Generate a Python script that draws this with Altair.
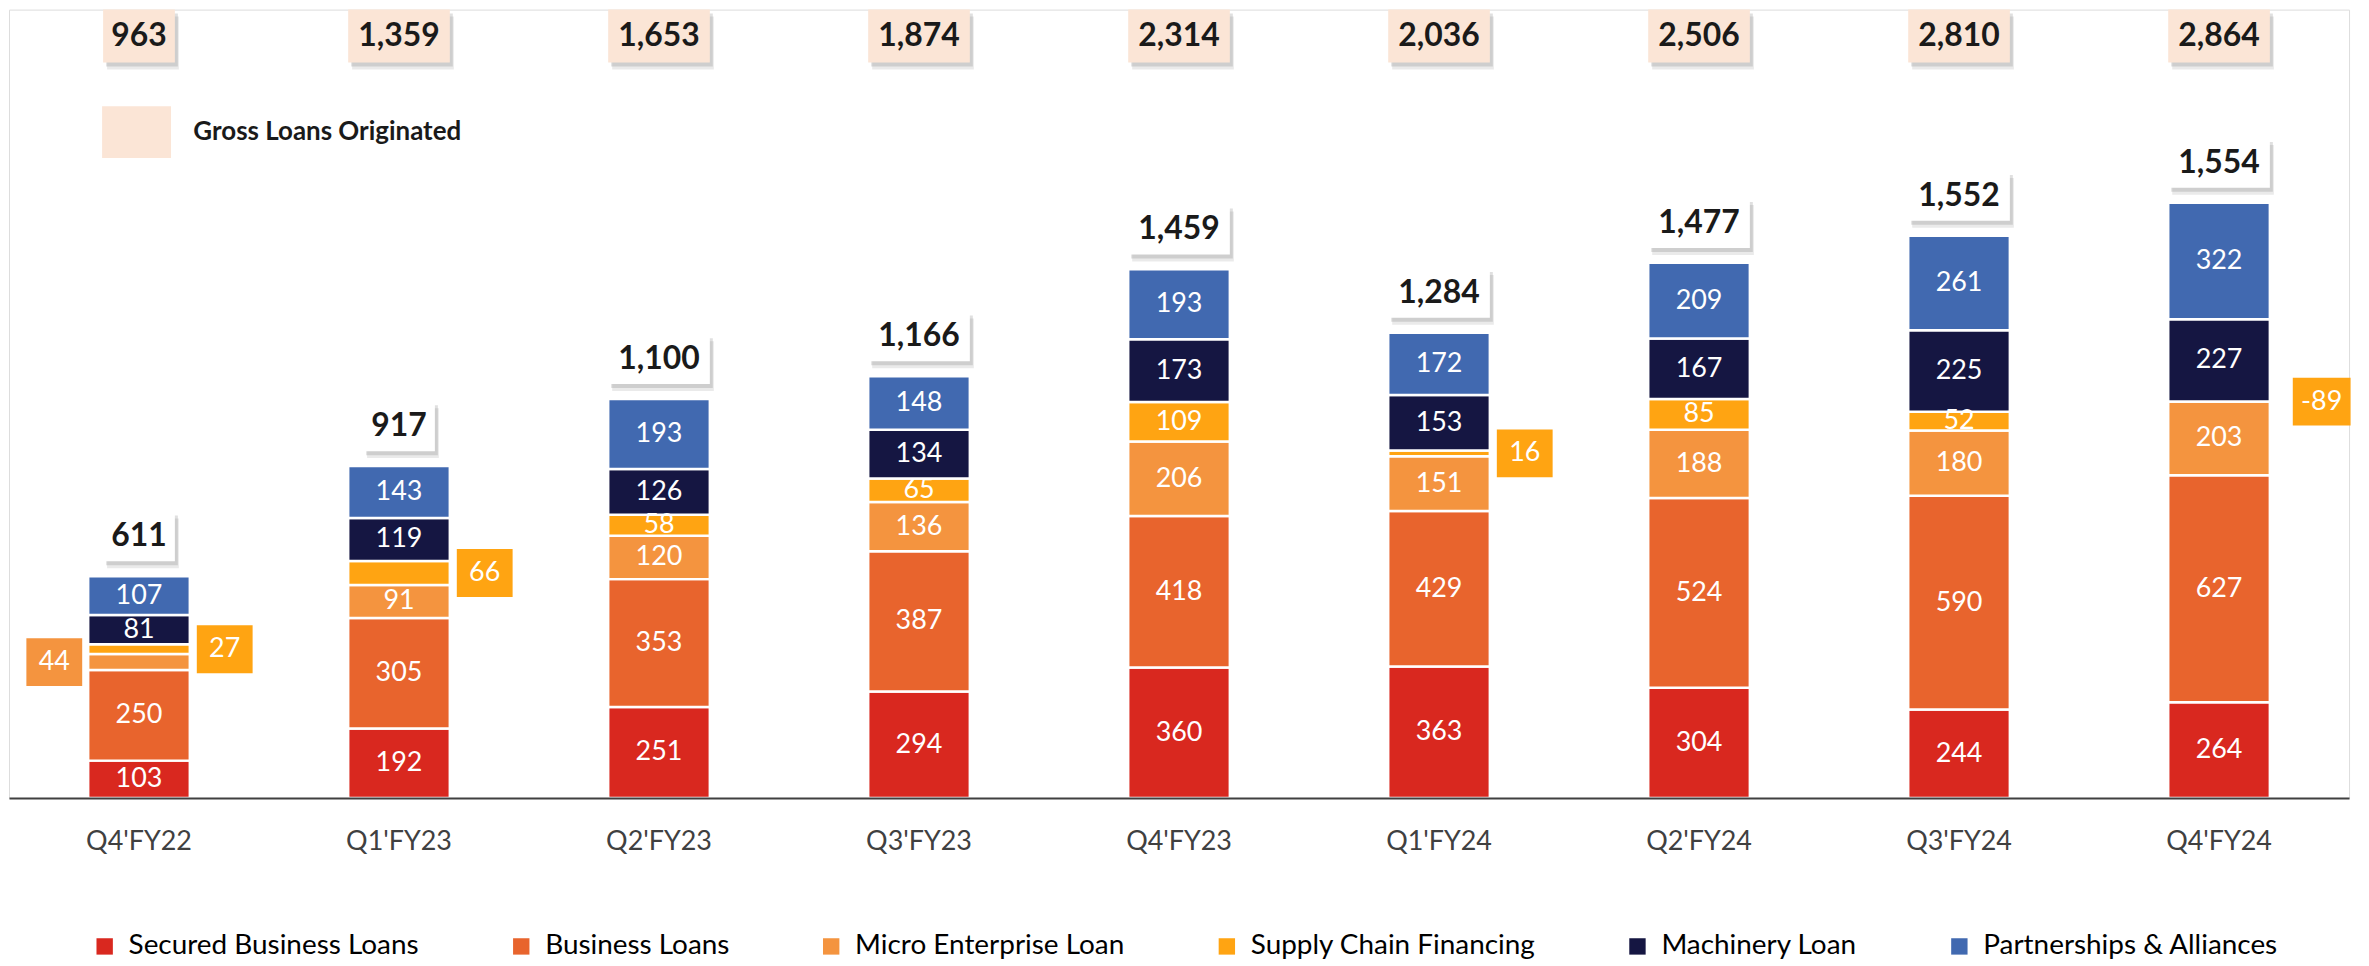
import altair as alt
import pandas as pd

quarters = ["Q4'FY22", "Q1'FY23", "Q2'FY23", "Q3'FY23", "Q4'FY23",
            "Q1'FY24", "Q2'FY24", "Q3'FY24", "Q4'FY24"]
series_names = ["Secured Business Loans", "Business Loans", "Micro Enterprise Loan",
                "Supply Chain Financing", "Machinery Loan", "Partnerships & Alliances"]
series_colors = ["#D9281F", "#E8642D", "#F4943F", "#FFA412", "#151642", "#4169B0"]

secured = [103, 192, 251, 294, 360, 363, 304, 244, 264]
business = [250, 305, 353, 387, 418, 429, 524, 590, 627]
micro = [44, 91, 120, 136, 206, 151, 188, 180, 203]
supply = [27, 66, 58, 65, 109, 16, 85, 52, -89]
machinery = [81, 119, 126, 134, 173, 153, 167, 225, 227]
partnerships = [107, 143, 193, 148, 193, 172, 209, 261, 322]
totals = [611, 917, 1100, 1166, 1459, 1284, 1477, 1552, 1554]
gross = [963, 1359, 1653, 1874, 2314, 2036, 2506, 2810, 2864]

# which segment labels sit in a box beside the bar instead of inside it
callouts = {
    ("Q4'FY22", "Micro Enterprise Loan"): "left",
    ("Q4'FY22", "Supply Chain Financing"): "right",
    ("Q1'FY23", "Supply Chain Financing"): "right",
    ("Q1'FY24", "Supply Chain Financing"): "right",
    ("Q4'FY24", "Supply Chain Financing"): "far",
}

rows = []
all_series = [secured, business, micro, supply, machinery, partnerships]
for qi, q in enumerate(quarters):
    for si, name in enumerate(series_names):
        v = all_series[si][qi]
        rows.append(dict(quarter=q, series=name, order=si, value=v, label=str(v),
                         callout=callouts.get((q, name), "none")))
seg_df = pd.DataFrame(rows)
tot_df = pd.DataFrame({"quarter": quarters, "total": totals, "gross": gross,
                       "legend_name": ["Gross Loans Originated"] * len(quarters)})

FONT = "Lato"
W, H = 2348, 791
yscale = alt.Scale(domain=[0, 2176], nice=False, zero=True)

x_enc = alt.X("quarter:N", sort=quarters,
              scale=alt.Scale(paddingInner=0, paddingOuter=0),
              axis=alt.Axis(title=None, labelAngle=0, labelFont=FONT, labelFontSize=27,
                            labelColor="#404040", ticks=False, tickSize=0, labelPadding=31,
                            domainColor="#404040", domainWidth=2, zindex=1))

color_enc = alt.Color("series:N",
                      scale=alt.Scale(domain=series_names, range=series_colors),
                      legend=alt.Legend(orient="none", legendX=82, legendY=926,
                                        direction="horizontal", columns=6, title=None,
                                        symbolType="square", symbolSize=270,
                                        symbolStrokeWidth=0, labelFont=FONT,
                                        labelFontSize=28, labelColor="#000000",
                                        labelOffset=10, columnPadding=88, labelLimit=0))

seg = (alt.Chart(seg_df)
       .transform_calculate(drawn="max(datum.value, 0)")
       .transform_stack(stack="drawn", groupby=["quarter"], as_=["y0", "y1"],
                        sort=[alt.SortField("order", order="ascending")])
       .transform_calculate(mid="(datum.y0 + datum.y1) / 2"))

bars = seg.mark_bar(width=102, stroke="white", strokeWidth=2.5).encode(
    x=x_enc,
    y=alt.Y("y0:Q", scale=yscale, axis=None),
    y2="y1:Q",
    color=color_enc,
)

inner_labels = seg.transform_filter("datum.callout == 'none'").mark_text(
    font=FONT, fontSize=27, color="white", baseline="middle").encode(
    x=x_enc, y=alt.Y("mid:Q", scale=yscale, axis=None), text="label:N")

layers = [bars, inner_labels]
for side, off, bw in [("right", 86, 56), ("left", -85, 56), ("far", 103, 58)]:
    sub = seg.transform_filter(f"datum.callout == '{side}'")
    layers.append(sub.mark_bar(width=bw, xOffset=off, yOffset=24, y2Offset=-24).encode(
        x=x_enc, y=alt.Y("mid:Q", scale=yscale, axis=None), y2="mid:Q", color=color_enc))
    layers.append(sub.mark_text(font=FONT, fontSize=27, color="white", baseline="middle",
                                xOffset=off).encode(
        x=x_enc, y=alt.Y("mid:Q", scale=yscale, axis=None), text="label:N"))

tot = (alt.Chart(seg_df)
       .transform_calculate(drawn="max(datum.value, 0)")
       .transform_aggregate(top="sum(drawn)", groupby=["quarter"])
       .transform_lookup(lookup="quarter",
                         from_=alt.LookupData(tot_df, "quarter", ["total"])))

for cond, wd in [("datum.total < 1000", 72), ("datum.total >= 1000", 102)]:
    t = tot.transform_filter(cond)
    for dx, dy, op in [(3, 4, 0.18), (4, 7, 0.12)]:
        layers.append(t.mark_bar(width=wd, color="#555555", opacity=op, xOffset=dx,
                                 yOffset=-15 + dy, y2Offset=-65 + dy).encode(
            x=x_enc, y=alt.Y("top:Q", scale=yscale, axis=None), y2="top:Q"))
    layers.append(t.mark_bar(width=wd, color="white", yOffset=-15, y2Offset=-65).encode(
        x=x_enc, y=alt.Y("top:Q", scale=yscale, axis=None), y2="top:Q"))

layers.append(tot.mark_text(font=FONT, fontSize=32, fontWeight="bold", color="#1a1a1a",
                            baseline="middle", dy=-40).encode(
    x=x_enc, y=alt.Y("top:Q", scale=yscale, axis=None),
    text=alt.Text("total:Q", format=",")))

gross_base = alt.Chart(tot_df)
fill_enc = alt.Fill("legend_name:N",
                    scale=alt.Scale(domain=["Gross Loans Originated"], range=["#FBE5D6"]),
                    legend=alt.Legend(orient="none", legendX=102, legendY=97, title=None,
                                      symbolType="M-1.33,-1H1.33V1H-1.33Z",
                                      symbolSize=2704, symbolStrokeWidth=0,
                                      labelFont=FONT, labelFontSize=26,
                                      labelFontWeight="bold", labelColor="#1a1a1a",
                                      labelOffset=31, labelLimit=0))
for cond, wd in [("datum.gross < 1000", 72), ("datum.gross >= 1000", 102)]:
    g = gross_base.transform_filter(cond)
    for dx, dy, op in [(3, 4, 0.18), (4, 7, 0.12)]:
        layers.append(g.mark_bar(width=wd, color="#555555", opacity=op, xOffset=dx,
                                 yOffset=dy, y2Offset=dy).encode(
            x=x_enc, y=alt.value(0), y2=alt.value(53)))
    layers.append(g.mark_bar(width=wd).encode(
        x=x_enc, y=alt.value(0), y2=alt.value(53), fill=fill_enc))

layers.append(gross_base.mark_text(font=FONT, fontSize=32, fontWeight="bold",
                                   color="#1a1a1a", baseline="middle").encode(
    x=x_enc, y=alt.value(27), text=alt.Text("gross:Q", format=",")))

chart = (alt.layer(*layers)
         .properties(width=W, height=H,
                     autosize=alt.AutoSizeParams(type="none"),
                     padding={"left": 1, "top": 0, "right": 12, "bottom": 164})
         .configure_view(stroke=None)
         .configure(font=FONT, background="white"))

chart.save("out.html", embed_options={"renderer": "svg", "actions": False})
